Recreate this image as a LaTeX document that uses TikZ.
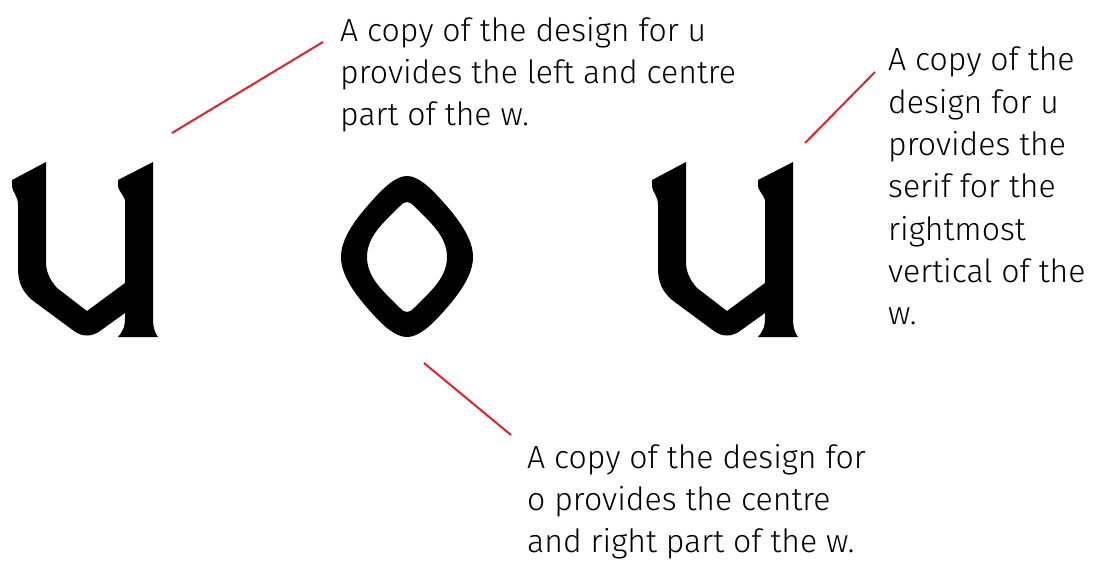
\documentclass[tikz,border=0pt]{standalone}
\usepackage{fontspec}
\setmainfont{Fira Sans Light}
\definecolor{leadred}{RGB}{228,32,44}

\begin{document}
\begin{tikzpicture}[x=1pt,y=-1pt,font=\fontsize{32}{42.3}\selectfont,
  note/.style={anchor=north west,inner sep=0pt,align=left},
  leader/.style={draw=leadred,line width=2pt}]
  \useasboundingbox (0,0) rectangle (1093,560);
  % the two copies of u
  \foreach \dx in {0,640}{
    \fill[xshift=\dx] (12,180) -- (46,162) -- (46,262)
      .. controls (46,272) and (50,280) .. (57,288) -- (87,311) -- (125,283)
      -- (125,200) .. controls (123,194) and (118,190) .. (118,186)
      -- (118,180) -- (153,162) -- (153,318)
      .. controls (153,328) and (155,333) .. (158,337) -- (118,337)
      .. controls (122,332) and (125,328) .. (125,318) -- (125,313)
      -- (100,331) .. controls (92,337) and (82,337) .. (74,331)
      -- (32,300) .. controls (22,291) and (18,282) .. (18,268)
      -- (18,205) .. controls (18,195) and (12,192) .. (12,186) -- cycle;
  }
  % the o
  \fill[even odd rule] (407,176) .. controls (418,176) and (430,187) .. (444,203)
      .. controls (461,222) and (473,240) .. (473,257)
      .. controls (473,274) and (461,292) .. (444,311)
      .. controls (430,327) and (418,337) .. (407,337)
      .. controls (396,337) and (384,327) .. (370,311)
      .. controls (353,292) and (341,274) .. (341,257)
      .. controls (341,240) and (353,222) .. (370,203)
      .. controls (384,187) and (396,176) .. (407,176) -- cycle
    (407,202) .. controls (410,202) and (412,204) .. (414,206)
      .. controls (430,222) and (447,236) .. (447,257)
      .. controls (447,278) and (430,292) .. (414,308)
      .. controls (412,310) and (410,312) .. (407,312)
      .. controls (404,312) and (402,310) .. (400,308)
      .. controls (384,292) and (367,278) .. (367,257)
      .. controls (367,236) and (384,222) .. (400,206)
      .. controls (402,204) and (404,202) .. (407,202) -- cycle;

  \node[note] (unote) at (340,17) {A copy of the design for u\\provides the left and centre\\part of the w.};
  \node[note] (serifnote) at (888,47) {A copy of the\\design for u\\provides the\\serif for the\\rightmost\\vertical of the\\w.};
  \node[note] (onote) at (527,444) {A copy of the design for\\o provides the centre\\and right part of the w.};

  \coordinate (utop) at (172,133);
  \coordinate (userif) at (805,143);
  \coordinate (obottom) at (424,363);
  \draw[leader] (utop) -- ([shift={(-17,25)}]unote.north west);
  \draw[leader] (userif) -- ([shift={(-13,25)}]serifnote.north west);
  \draw[leader] (obottom) -- ([shift={(-16,-9)}]onote.north west);
\end{tikzpicture}
\end{document}
